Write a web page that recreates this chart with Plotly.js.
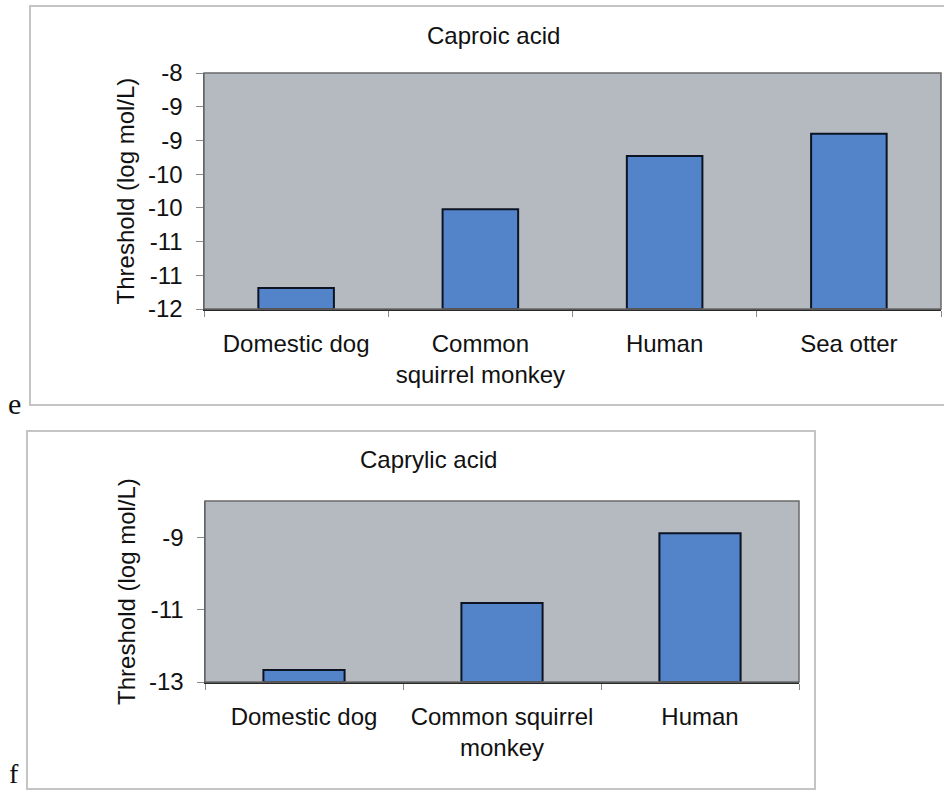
<!DOCTYPE html>
<html>
<head>
<meta charset="utf-8">
<script src="https://cdn.plot.ly/plotly-3.0.1.min.js"></script>
<style>
  html, body { margin: 0; padding: 0; background: #ffffff; }
  #chart { width: 944px; height: 792px; }
</style>
</head>
<body>
<div id="chart"></div>
<script>
// ---- Panel e: Caproic acid ----
const caproicTitle = "Caproic acid";
const caproicCategories = ["Domestic dog", "Common<br>squirrel monkey", "Human", "Sea otter"];
const caproicValues = [-11.19, -10.02, -9.23, -8.90];
const caproicAxisMin = -11.5;
const caproicAxisMax = -8;
const caproicTickVals = [-8, -8.5, -9, -9.5, -10, -10.5, -11, -11.5];
const caproicTickText = ["-8", "-9", "-9", "-10", "-10", "-11", "-11", "-12"];

// ---- Panel f: Caprylic acid ----
const caprylicTitle = "Caprylic acid";
const caprylicCategories = ["Domestic dog", "Common squirrel<br>monkey", "Human"];
const caprylicValues = [-12.67, -10.82, -8.89];
const caprylicAxisMin = -13;
const caprylicAxisMax = -8;
const caprylicTickVals = [-9, -11, -13];
const caprylicTickText = ["-9", "-11", "-13"];

const yTitle = "Threshold (log mol/L)";

const W = 944, H = 792;
const px = v => v / W;
const py = v => 1 - v / H;

const FONT = "Liberation Sans, Arial, sans-serif";
const SERIF = "Liberation Serif, Times New Roman, serif";
const barColor = "#5384c9";
const barLine = "#0c1424";
const plotBg = "#b5bac1";

const traceE = {
  type: "bar",
  x: caproicCategories,
  base: caproicValues.map(() => caproicAxisMin),
  y: caproicValues.map(v => v - caproicAxisMin),
  xaxis: "x", yaxis: "y",
  marker: { color: barColor, line: { color: barLine, width: 2 } },
  hoverinfo: "skip",
  showlegend: false
};
const traceF = {
  type: "bar",
  x: caprylicCategories,
  base: caprylicValues.map(() => caprylicAxisMin),
  y: caprylicValues.map(v => v - caprylicAxisMin),
  xaxis: "x2", yaxis: "y2",
  marker: { color: barColor, line: { color: barLine, width: 2 } },
  hoverinfo: "skip",
  showlegend: false
};

const xCommon = {
  type: "category",
  showgrid: false,
  zeroline: false,
  showline: true,
  linecolor: "#2a2a2a",
  linewidth: 2,
  ticks: "outside",
  tickson: "boundaries",
  ticklen: 6,
  tickcolor: "#8a8a8a",
  tickwidth: 1,
  tickfont: { family: FONT, size: 24, color: "#111" },
  ticklabelstandoff: 12,
  fixedrange: true
};
const yCommon = {
  showgrid: false,
  zeroline: false,
  showline: true,
  linecolor: "#555",
  linewidth: 1.5,
  ticks: "outside",
  ticklen: 7,
  tickcolor: "#8a8a8a",
  tickwidth: 1,
  tickmode: "array",
  ticklabelstandoff: 8,
  tickfont: { family: FONT, size: 24, color: "#111" },
  fixedrange: true
};

const layout = {
  width: W, height: H,
  margin: { l: 0, r: 0, t: 0, b: 0 },
  paper_bgcolor: "#ffffff",
  plot_bgcolor: plotBg,
  bargap: 0.59,
  showlegend: false,
  xaxis: Object.assign({}, xCommon, {
    domain: [px(204), px(941)], anchor: "y"
  }),
  yaxis: Object.assign({}, yCommon, {
    domain: [py(309), py(73)], anchor: "x",
    range: [caproicAxisMin, caproicAxisMax],
    tickvals: caproicTickVals, ticktext: caproicTickText,
    title: { text: yTitle, font: { family: FONT, size: 24, color: "#111" }, standoff: 6 }
  }),
  xaxis2: Object.assign({}, xCommon, {
    domain: [px(205), px(799)], anchor: "y2"
  }),
  yaxis2: Object.assign({}, yCommon, {
    domain: [py(682), py(501)], anchor: "x2",
    range: [caprylicAxisMin, caprylicAxisMax],
    tickvals: caprylicTickVals, ticktext: caprylicTickText,
    title: { text: yTitle, font: { family: FONT, size: 24, color: "#111" }, standoff: 6 }
  }),
  shapes: [
    // panel frames
    { type: "rect", xref: "paper", yref: "paper", x0: px(30), x1: px(960), y0: py(405), y1: py(6),
      line: { color: "#c4c4c4", width: 2 }, fillcolor: "rgba(0,0,0,0)", layer: "below" },
    { type: "rect", xref: "paper", yref: "paper", x0: px(27), x1: px(815), y0: py(789), y1: py(431),
      line: { color: "#c4c4c4", width: 2 }, fillcolor: "rgba(0,0,0,0)", layer: "below" },
    // plot-area borders
    { type: "rect", xref: "x domain", yref: "y domain", x0: 0, x1: 1, y0: 0, y1: 1,
      line: { color: "#6a6a6a", width: 1.5 }, fillcolor: "rgba(0,0,0,0)", layer: "above" },
    { type: "rect", xref: "x2 domain", yref: "y2 domain", x0: 0, x1: 1, y0: 0, y1: 1,
      line: { color: "#6a6a6a", width: 1.5 }, fillcolor: "rgba(0,0,0,0)", layer: "above" }
  ],
  annotations: [
    { text: caproicTitle, xref: "paper", yref: "paper", x: px(493), y: py(35),
      xanchor: "center", yanchor: "middle", showarrow: false,
      font: { family: FONT, size: 24, color: "#111" } },
    { text: caprylicTitle, xref: "paper", yref: "paper", x: px(428), y: py(459),
      xanchor: "center", yanchor: "middle", showarrow: false,
      font: { family: FONT, size: 24, color: "#111" } },
    { text: "e", xref: "paper", yref: "paper", x: px(14), y: py(404),
      xanchor: "center", yanchor: "middle", showarrow: false,
      font: { family: SERIF, size: 30, color: "#111" } },
    { text: "f", xref: "paper", yref: "paper", x: px(14), y: py(791),
      xanchor: "center", yanchor: "bottom", showarrow: false,
      font: { family: SERIF, size: 28, color: "#111" } }
  ]
};

Plotly.newPlot("chart", [traceE, traceF], layout, { displayModeBar: false, staticPlot: true });
</script>
</body>
</html>
